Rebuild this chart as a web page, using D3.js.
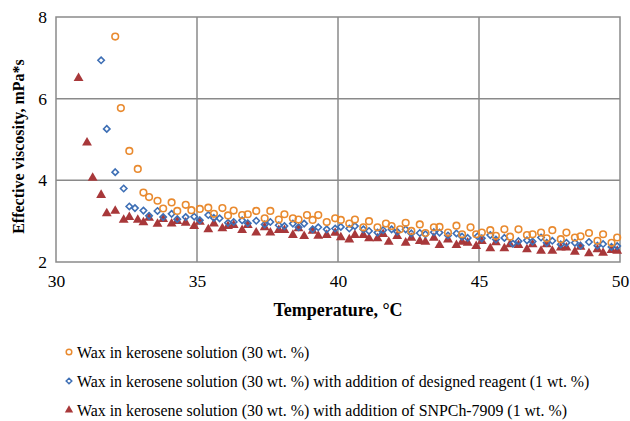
<!DOCTYPE html>
<html>
<head>
<meta charset="utf-8">
<script src="https://cdn.jsdelivr.net/npm/d3@7"></script>
<style>
  body { margin: 0; background: #fff; }
  svg text { font-family: "Liberation Serif", "Times New Roman", serif; fill: #000; }
</style>
</head>
<body>
<svg id="chart" width="630" height="421"></svg>
<script>
// temperature (°C) and effective viscosity (mPa*s) for each sample
var waxTemp = [32.1,32.3,32.6,32.9,33.1,33.3,33.6,33.8,34.1,34.3,34.6,34.8,35.1,35.4,35.6,35.9,36.1,36.3,36.6,36.8,
  37.1,37.4,37.6,37.9,38.1,38.4,38.6,38.9,39.1,39.3,39.6,39.9,40.1,40.4,40.6,40.9,41.1,41.4,41.7,41.9,
  42.2,42.4,42.6,42.9,43.1,43.4,43.6,43.9,44.2,44.4,44.7,44.9,45.1,45.4,45.6,45.9,46.1,46.4,46.7,46.9,
  47.2,47.4,47.6,47.9,48.1,48.4,48.6,48.9,49.2,49.4,49.7,49.9];
var waxVisc = [7.52,5.77,4.72,4.28,3.70,3.59,3.50,3.31,3.46,3.25,3.40,3.27,3.30,3.33,3.18,3.32,3.14,3.26,3.15,3.17,
  3.25,3.07,3.25,3.04,3.17,3.07,3.04,3.15,3.03,3.15,2.98,3.07,3.03,2.94,3.04,2.85,3.00,2.85,2.94,2.88,
  2.80,2.96,2.76,2.92,2.71,2.85,2.86,2.72,2.89,2.68,2.85,2.68,2.72,2.78,2.64,2.80,2.62,2.80,2.66,2.68,
  2.72,2.58,2.78,2.56,2.72,2.60,2.63,2.71,2.52,2.68,2.47,2.60];

var reagentTemp = [31.6,31.8,32.1,32.4,32.6,32.8,33.1,33.3,33.6,33.8,34.1,34.3,34.6,34.9,35.1,35.4,35.6,35.8,36.1,36.3,
  36.6,36.8,37.1,37.4,37.6,37.9,38.1,38.4,38.6,38.8,39.1,39.3,39.6,39.9,40.1,40.4,40.6,40.9,41.1,41.4,
  41.6,41.9,42.1,42.4,42.6,42.9,43.1,43.4,43.6,43.9,44.2,44.4,44.6,44.95,45.1,45.4,45.6,45.9,46.2,46.4,
  46.7,46.9,47.2,47.4,47.6,47.9,48.1,48.4,48.6,48.9,49.2,49.4,49.7,49.9];
var reagentVisc = [6.94,5.26,4.20,3.80,3.36,3.32,3.26,3.13,3.25,3.10,3.18,3.05,3.10,3.11,3.02,3.15,3.08,3.07,2.96,2.98,
  3.02,2.95,3.01,2.92,2.98,2.90,2.88,2.94,2.85,2.94,2.80,2.85,2.80,2.82,2.86,2.82,2.88,2.80,2.76,2.72,
  2.78,2.80,2.74,2.80,2.70,2.71,2.68,2.73,2.72,2.65,2.70,2.62,2.59,2.63,2.58,2.66,2.55,2.59,2.45,2.51,
  2.53,2.50,2.60,2.47,2.52,2.43,2.47,2.47,2.40,2.49,2.40,2.44,2.37,2.39];

var snpchTemp = [30.8,31.1,31.3,31.6,31.8,32.1,32.4,32.6,32.9,33.1,33.3,33.6,33.8,34.1,34.3,34.6,34.9,35.1,35.4,35.6,
  35.9,36.1,36.3,36.6,36.8,37.1,37.4,37.6,37.9,38.1,38.4,38.6,38.8,39.1,39.3,39.6,39.9,40.1,40.4,40.6,
  40.9,41.1,41.4,41.6,41.8,42.1,42.4,42.6,42.9,43.1,43.4,43.6,43.9,44.2,44.4,44.6,44.9,45.1,45.4,45.6,
  45.9,46.1,46.4,46.7,46.9,47.2,47.4,47.6,47.9,48.1,48.4,48.6,48.9,49.2,49.4,49.7,49.9];
var snpchVisc = [6.50,4.92,4.06,3.64,3.19,3.25,3.03,3.10,3.03,2.97,3.08,2.93,3.05,2.94,3.00,2.96,2.88,2.98,2.80,2.94,
  2.82,2.88,2.90,2.78,2.90,2.72,2.85,2.72,2.78,2.78,2.66,2.82,2.63,2.76,2.64,2.66,2.71,2.60,2.55,2.66,
  2.66,2.58,2.58,2.68,2.49,2.63,2.47,2.59,2.51,2.49,2.59,2.41,2.55,2.41,2.49,2.47,2.39,2.51,2.33,2.48,
  2.33,2.43,2.41,2.31,2.43,2.27,2.43,2.27,2.35,2.35,2.25,2.37,2.21,2.31,2.22,2.29,2.27];

var xTicks = [30, 35, 40, 45, 50];
var yTicks = [2, 4, 6, 8];

var seriesNames = [
  "Wax in kerosene solution (30 wt. %)",
  "Wax in kerosene solution (30 wt. %) with addition of designed reagent (1 wt. %)",
  "Wax in kerosene solution (30 wt. %) with addition of SNPCh-7909 (1 wt. %)"
];

function drawChart() {
  var svg = d3.select("#chart"),
      left = 56, right = 620, plotTop = 17, bottom = 262;

  var x = d3.scaleLinear().domain([30, 50]).range([left, right]);
  var y = d3.scaleLinear().domain([2, 8]).range([bottom, plotTop]);

  var gridColor = "#8a8a8a";

  // grid
  svg.append("g").selectAll("line")
    .data(xTicks.slice(1, -1))
    .enter().append("line")
      .attr("x1", function(d) { return x(d); })
      .attr("x2", function(d) { return x(d); })
      .attr("y1", plotTop).attr("y2", bottom)
      .attr("stroke", gridColor).attr("stroke-width", 1.5);

  svg.append("g").selectAll("line")
    .data(yTicks.slice(1, -1))
    .enter().append("line")
      .attr("x1", left).attr("x2", right)
      .attr("y1", function(d) { return y(d); })
      .attr("y2", function(d) { return y(d); })
      .attr("stroke", gridColor).attr("stroke-width", 1.5);

  svg.append("rect")
    .attr("x", left).attr("y", plotTop)
    .attr("width", right - left).attr("height", bottom - plotTop)
    .attr("fill", "none").attr("stroke", gridColor).attr("stroke-width", 1.5);

  // tick labels from d3 axes, lines removed
  var xAxis = svg.append("g")
    .attr("transform", "translate(0," + bottom + ")")
    .call(d3.axisBottom(x).tickValues(xTicks).tickFormat(d3.format("d")).tickSize(0).tickPadding(13));
  var yAxis = svg.append("g")
    .attr("transform", "translate(" + left + ",0)")
    .call(d3.axisLeft(y).tickValues(yTicks).tickFormat(d3.format("d")).tickSize(0).tickPadding(9));
  [xAxis, yAxis].forEach(function(a) {
    a.select(".domain").remove();
    a.selectAll("text").style("font-family", "Liberation Serif").style("font-size", "17.5px");
  });

  svg.append("text")
    .attr("x", (left + right) / 2).attr("y", 316)
    .attr("text-anchor", "middle")
    .style("font-size", "18px").style("font-weight", "bold")
    .text("Temperature, °C");

  svg.append("text")
    .attr("transform", "translate(24," + ((plotTop + bottom) / 2 + 7) + ") rotate(-90)")
    .attr("text-anchor", "middle")
    .style("font-size", "16px").style("font-weight", "bold")
    .text("Effective viscosity, mPa*s");

  // markers
  var orange = "#E98A2F", blue = "#3E6FB5", red = "#A8383A";
  var tri = d3.symbol().type(d3.symbolTriangle).size(42);

  function points(temps, visc) {
    return temps.map(function(t, i) { return [t, visc[i]]; });
  }

  svg.append("g").selectAll("path")
    .data(points(snpchTemp, snpchVisc))
    .enter().append("path")
      .attr("d", tri)
      .attr("transform", function(d) { return "translate(" + x(d[0]) + "," + y(d[1]) + ")"; })
      .attr("fill", red);

  svg.append("g").selectAll("path")
    .data(points(reagentTemp, reagentVisc))
    .enter().append("path")
      .attr("d", "M0,-3.2L3.2,0L0,3.2L-3.2,0Z")
      .attr("transform", function(d) { return "translate(" + x(d[0]) + "," + y(d[1]) + ")"; })
      .attr("fill", "none").attr("stroke", blue).attr("stroke-width", 1.6);

  svg.append("g").selectAll("circle")
    .data(points(waxTemp, waxVisc))
    .enter().append("circle")
      .attr("cx", function(d) { return x(d[0]); })
      .attr("cy", function(d) { return y(d[1]); })
      .attr("r", 3.3)
      .attr("fill", "none").attr("stroke", orange).attr("stroke-width", 1.6);

  // legend
  var legendY = [352, 381, 410];
  var lg = svg.append("g");
  lg.append("circle").attr("cx", 69).attr("cy", legendY[0]).attr("r", 2.8)
    .attr("fill", "none").attr("stroke", orange).attr("stroke-width", 1.5);
  lg.append("path").attr("d", "M0,-2.8L2.8,0L0,2.8L-2.8,0Z")
    .attr("transform", "translate(69," + legendY[1] + ")")
    .attr("fill", "none").attr("stroke", blue).attr("stroke-width", 1.5);
  lg.append("path").attr("d", d3.symbol().type(d3.symbolTriangle).size(30))
    .attr("transform", "translate(69," + legendY[2] + ")")
    .attr("fill", red);
  lg.selectAll("text")
    .data(seriesNames)
    .enter().append("text")
      .attr("x", 77)
      .attr("y", function(d, i) { return legendY[i]; })
      .attr("dy", "0.35em")
      .style("font-size", "15.9px")
      .text(function(d) { return d; });
}

drawChart();
</script>
</body>
</html>
